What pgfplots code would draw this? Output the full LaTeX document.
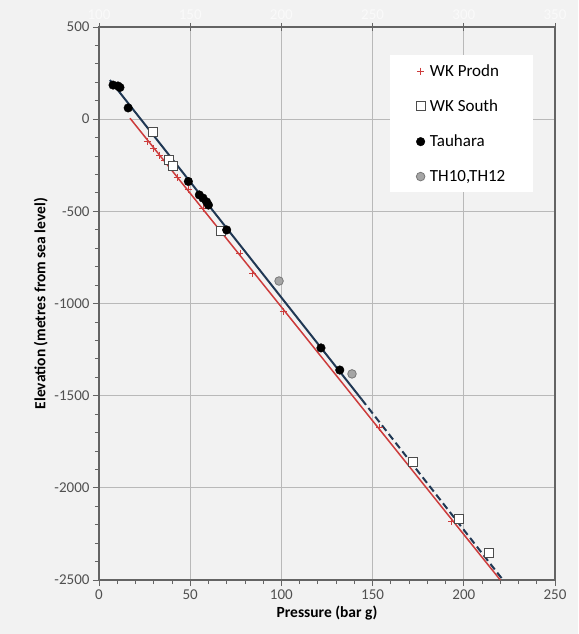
\documentclass[border=0pt]{standalone}
\usepackage{fontspec}
\setmainfont{Carlito}
\usepackage{pgfplots}
\pgfplotsset{compat=1.18}
\definecolor{bg}{RGB}{242,242,242}
\definecolor{darkline}{RGB}{32,56,84}
\definecolor{redline}{RGB}{205,60,60}
\definecolor{gridc}{RGB}{185,185,185}
\definecolor{framec}{RGB}{100,100,100}
\definecolor{tickc}{RGB}{80,80,80}
\definecolor{thgray}{RGB}{165,165,165}
\definecolor{thedge}{RGB}{120,120,120}
\definecolor{faint}{RGB}{250,250,250}
\begin{document}
\begin{tikzpicture}[x=1pt,y=1pt]
\fill[bg] (-99,-54) rectangle (479,580);
\begin{axis}[
  at={(0,0)}, anchor=south west,
  width=456pt, height=553pt, scale only axis,
  xmin=0, xmax=250, ymin=-2500, ymax=500,
  xtick={0,50,...,250}, ytick={-2500,-2000,...,500},
  minor x tick num=4, minor y tick num=4,
  xtick pos=left, ytick pos=left,
  grid=major, major grid style={gridc, line width=1pt},
  axis line style={framec, line width=1.2pt},
  tick style={framec, line width=0.8pt},
  major tick length=6pt, minor tick length=4pt,
  tick align=outside,
  axis background/.style={fill=bg},
  ticklabel style={font=\fontsize{15}{18}\selectfont, text=tickc},
  /pgf/number format/assume math mode=true,
  /pgf/number format/1000 sep={},
  xlabel={\textbf{Pressure (bar g)}},
  ylabel={\textbf{Elevation (metres from sea level)}},
  label style={font=\fontsize{15.5}{18}\selectfont},
  legend style={at={(0.638,0.949)}, anchor=north west, fill=white, draw=none,
    font=\fontsize{17}{20}\selectfont, inner xsep=26pt, inner ysep=7pt,
    row sep=18pt, cells={anchor=west}},
]
\addplot[darkline, line width=2pt, forget plot] coordinates {(6,212) (144,-1520)};
\addplot[darkline, line width=2pt, dash pattern=on 7pt off 4pt, forget plot] coordinates {(144,-1520) (221.5,-2500)};
\addplot[redline, line width=1.5pt, forget plot] coordinates {(17,5) (220,-2500)};
\addplot[only marks, mark=+, mark size=3.5pt, redline, mark options={line width=0.9pt}] coordinates {
(26.4,-120) (30.1,-160) (33.4,-195) (36.1,-225) (42.8,-314) (48.8,-384) (57,-482)
(67.4,-612) (77.3,-731) (84.4,-835) (100.9,-1045) (154,-1675) (193.5,-2185)};
\addlegendentry{\,WK Prodn}
\addplot[only marks, mark=square*, mark size=4.5pt, mark options={fill=white, draw=black!70, line width=0.8pt}] coordinates {
(29.6,-70) (38.4,-222) (40.6,-255) (67,-605) (172,-1860) (197.4,-2169) (213.8,-2354)};
\addlegendentry{\,WK South}
\addplot[only marks, mark=*, mark size=4.3pt, mark options={fill=black, draw=black}] coordinates {
(7.7,185) (10.4,180) (11.5,172) (16,61) (49,-338) (55,-411) (57,-428) (59,-449) (60,-466)
(70,-601) (121.7,-1241) (132,-1361)};
\addlegendentry{\,Tauhara}
\addplot[only marks, mark=*, mark size=4.3pt, mark options={fill=thgray, draw=thedge, line width=0.8pt}] coordinates {
(98.7,-878) (138.7,-1382)};
\addlegendentry{\,TH10,TH12}
\end{axis}
\begin{axis}[
  at={(0,0)}, anchor=south west,
  width=456pt, height=553pt, scale only axis,
  xmin=100, xmax=350, ymin=0, ymax=1,
  axis x line*=top, axis y line=none,
  xtick={100,150,...,350},
  tick style={framec, line width=0.8pt},
  major tick length=8pt, tick align=center,
  axis line style={framec, line width=1.2pt},
  ticklabel style={font=\fontsize{15}{18}\selectfont, text=faint},
  /pgf/number format/assume math mode=true,
]
\end{axis}
\pgfresetboundingbox
\path[use as bounding box] (-99,-54) rectangle (479,580);
\end{tikzpicture}
\end{document}
